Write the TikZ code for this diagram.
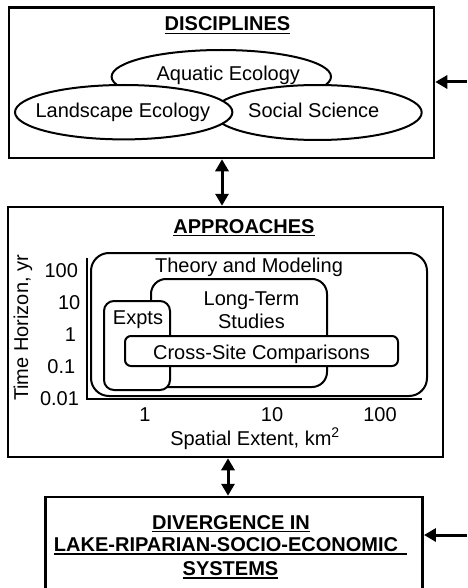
\documentclass[tikz,border=0pt]{standalone}
\usepackage{fontspec}
\setmainfont{Liberation Sans}
\usetikzlibrary{arrows.meta,calc,shapes.geometric}
\tikzset{
  box/.style={draw, line width=2.5pt, inner sep=0pt},
  rbox/.style={draw, line width=2pt, fill=white, inner sep=0pt},
  ell/.style={draw, ellipse, line width=2pt, fill=white, inner sep=0pt},
  lbl/.style={inner sep=0pt, anchor=base, font=\fontsize{20}{23}\selectfont},
  ttl/.style={inner sep=0pt, anchor=base, font=\fontsize{20}{23}\selectfont\bfseries},
  ul/.style={line width=1.4pt},
  axis/.style={line width=2pt},
  dbl/.style={line width=3pt, {Triangle[width=13pt,length=12pt]}-{Triangle[width=13pt,length=12pt]}},
  inarr/.style={line width=3pt, -{Triangle[width=13pt,length=12pt]}},
}
\begin{document}
\begin{tikzpicture}[x=1pt,y=-1pt]
\useasboundingbox (0,0) rectangle (467,588);
\clip (0,0) rectangle (467,588);

% main boxes
\node[box, minimum width=425pt, minimum height=150.5pt] (b1) at (221.5,82.75) {};
\node[box, minimum width=435pt, minimum height=250pt] (b2) at (225.5,332) {};
\node[box, minimum width=377pt, minimum height=116pt] (b3) at (234.2,555) {};

% titles
\node[ttl] (t1) at (227.5,31) {DISCIPLINES};
\draw[ul] ([yshift=-2.3pt]t1.base west) -- ([yshift=-2.3pt]t1.base east);
\node[ttl] (t2) at (244,233.3) {APPROACHES};
\draw[ul] ([yshift=-2.3pt]t2.base west) -- ([yshift=-2.3pt]t2.base east);
\node[ttl] (t3a) at (231,529) {DIVERGENCE IN};
\draw[ul] ([yshift=-2.3pt]t3a.base west) -- ([yshift=-2.3pt]t3a.base east);
\node[ttl] (t3b) at (230.5,551.7) {LAKE-RIPARIAN-SOCIO-ECONOMIC\hspace*{9pt}};
\draw[ul] ([yshift=-2.3pt]t3b.base west) -- ([yshift=-2.3pt]t3b.base east);
\node[ttl] (t3c) at (230.5,575.7) {SYSTEMS};
\draw[ul] ([yshift=-2.3pt]t3c.base west) -- ([yshift=-2.3pt]t3c.base east);

% disciplines ellipses
\node[ell, minimum width=219.4pt, minimum height=53.4pt] (eaq) at (221.3,76.7) {};
\node[ell, minimum width=208.4pt, minimum height=55pt] (eso) at (317.5,112.5) {};
\node[ell, minimum width=217.4pt, minimum height=54.4pt] (ela) at (123.7,112.2) {};
\node[lbl] (laq) at (228.3,81) {Aquatic Ecology};
\node[lbl] (lla) at (122.8,117.3) {Landscape Ecology};
\node[lbl] (lso) at (313.8,117.3) {Social Science};

% approaches chart
\node[rbox, rounded corners=18pt, minimum width=336pt, minimum height=143pt] (rth) at (259,324.5) {};
\node[rbox, rounded corners=15pt, minimum width=176pt, minimum height=108pt] (rlt) at (239,333) {};
\node[rbox, rounded corners=10pt, minimum width=66pt, minimum height=89pt] (rex) at (137,345.5) {};
\node[rbox, rounded corners=6pt, minimum width=273pt, minimum height=30pt] (rcs) at (261.5,351) {};
\node[lbl] (lth) at (249,272.5) {Theory and Modeling};
\node[lbl] (llt1) at (251.5,305) {Long-Term};
\node[lbl] (llt2) at (251.5,328) {Studies};
\node[lbl] (lex) at (138,324) {Expts};
\node[lbl] (lcs) at (261.5,359) {Cross-Site Comparisons};

% axes
\draw[axis] (87,258) -- (87,399) -- (422,399);
\node[lbl] (y100) at (61.2,277) {100};
\node[lbl] (y10) at (69.2,309.5) {10};
\node[lbl] (y1) at (70.5,341.5) {1};
\node[lbl] (y01) at (61.3,373.5) {0.1};
\node[lbl] (y001) at (59.5,405.5) {0.01};
\node[lbl, rotate=90] (ylab) at (28,328) {Time Horizon, yr};
\node[lbl] (x1) at (145,421.7) {1};
\node[lbl] (x10) at (272,421.7) {10};
\node[lbl] (x100) at (380,421.7) {100};
\node[lbl] (xlab) at (255,445) {Spatial Extent, km\textsuperscript{2}};

% connectors
\coordinate (c12) at (222,0);
\draw[dbl] (b1.south -| c12) -- (b2.north -| c12);
\coordinate (c23) at (228,0);
\draw[dbl] (b2.south -| c23) -- (b3.north -| c23);
\coordinate (in1) at (467,82);
\draw[inarr] (in1) -- (in1 -| b1.east);
\coordinate (in3) at (467,535);
\draw[inarr] (in3) -- (in3 -| b3.east);
\end{tikzpicture}
\end{document}
